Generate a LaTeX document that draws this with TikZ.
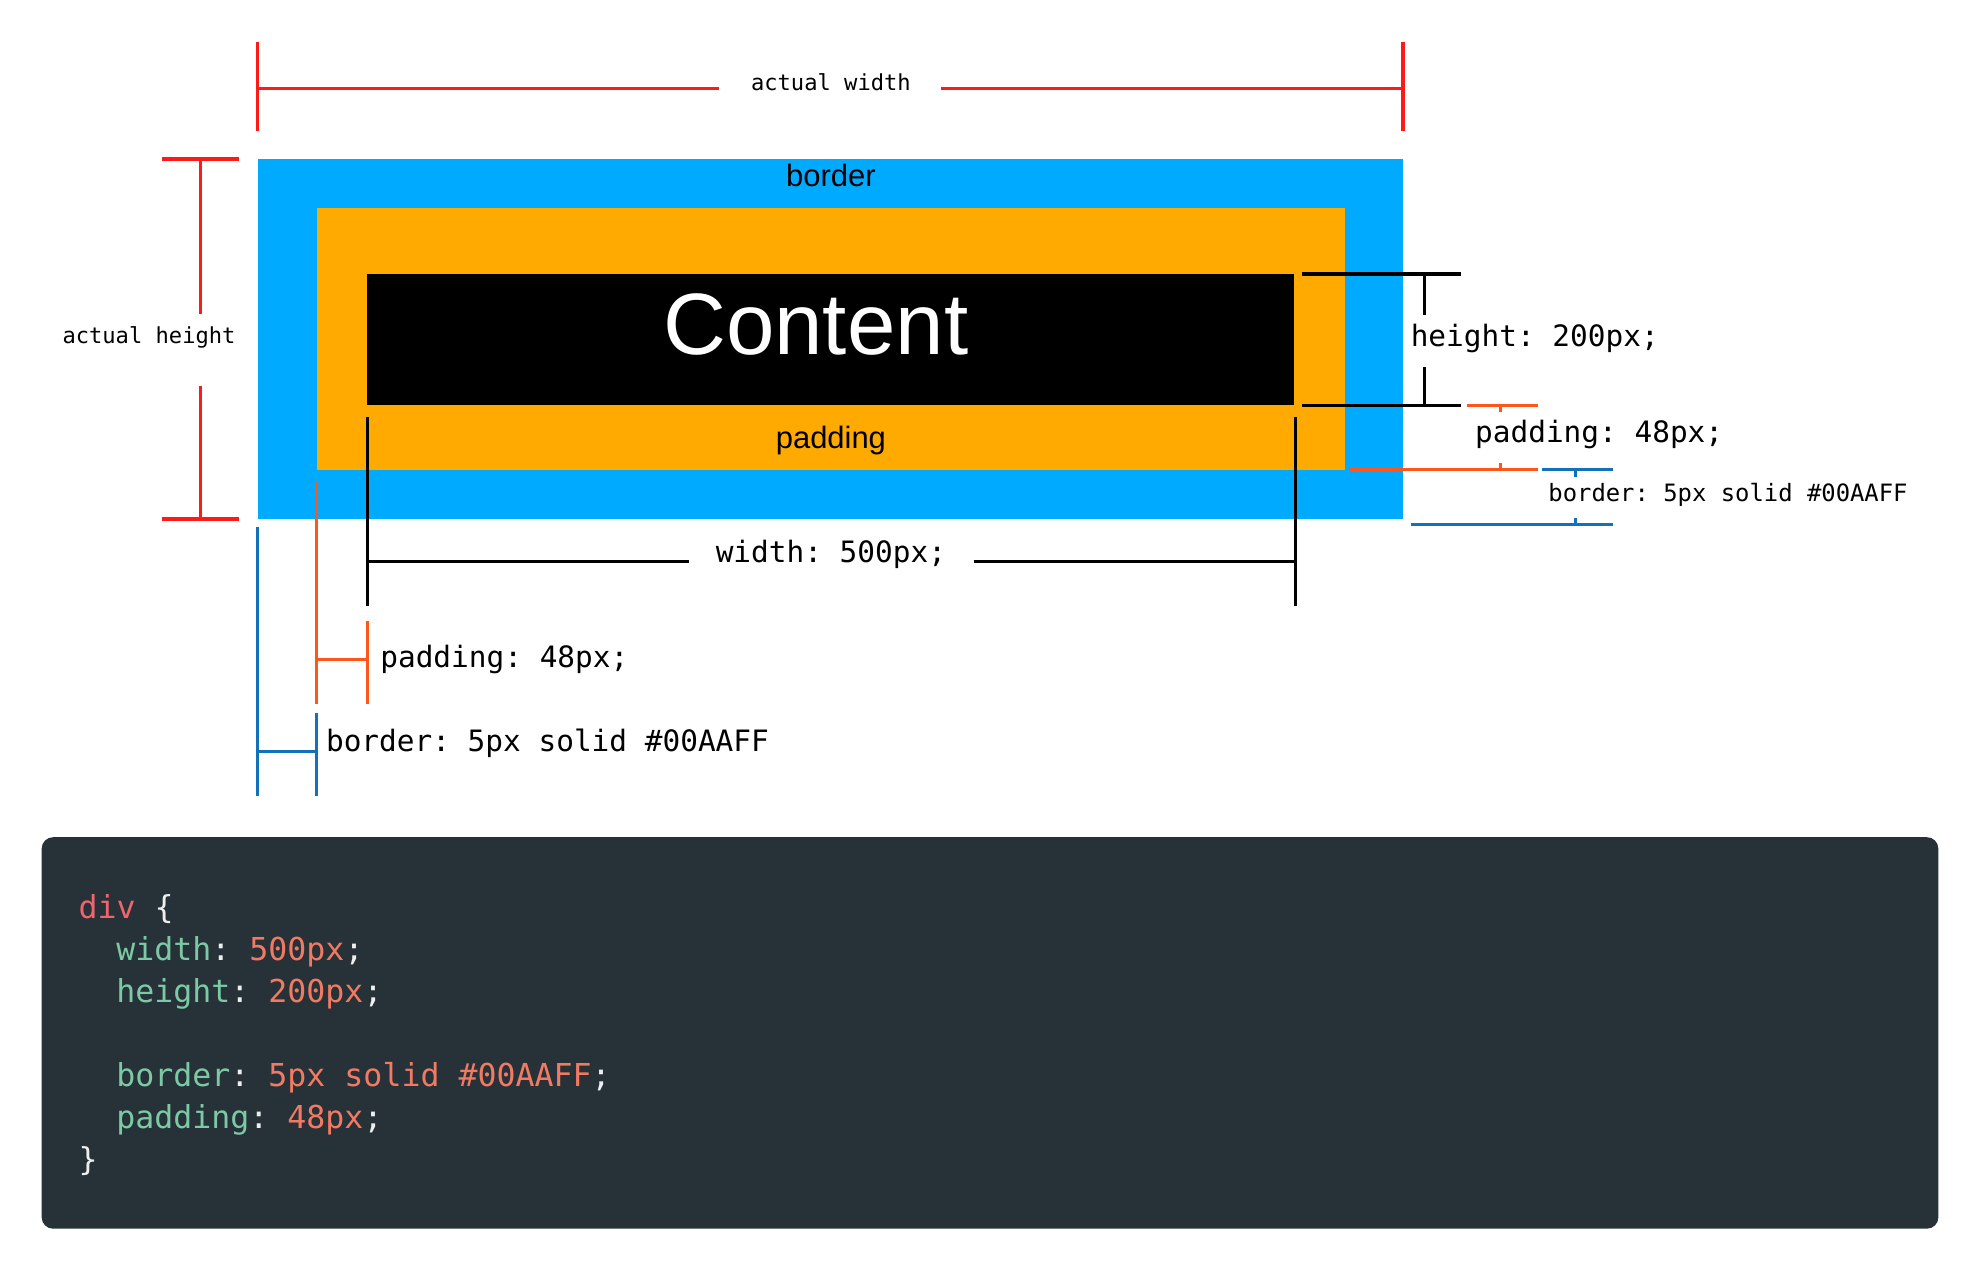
\documentclass[tikz,border=0pt]{standalone}
\usepackage{fontspec}
\newfontfamily\monof{DejaVu Sans Mono}
\newfontfamily\sansf{Liberation Sans}
\definecolor{cRed}{HTML}{FF1A1A}
\definecolor{cOrg}{HTML}{FF561C}
\definecolor{cLblue}{HTML}{1271B8}
\definecolor{cBorder}{HTML}{00AAFF}
\definecolor{cPad}{HTML}{FFAA00}
\definecolor{cCode}{HTML}{263238}
\definecolor{cTag}{HTML}{F0646E}
\definecolor{cProp}{HTML}{7DC9A6}
\definecolor{cVal}{HTML}{F27A63}
\definecolor{cPunct}{HTML}{EEEEEE}
\begin{document}
\frenchspacing
\begin{tikzpicture}[x=1pt,y=-1pt,
  dimred/.style={draw=cRed, line width=2.7pt},
  dimblk/.style={draw=black, line width=2.7pt},
  dimorg/.style={draw=cOrg, line width=2.4pt},
  dimblu/.style={draw=cLblue, line width=2.4pt},
  lbl/.style={inner sep=0pt, font=\monof\fontsize{23.3}{27}\selectfont},
  lblmid/.style={inner sep=0pt, font=\monof\fontsize{18.9}{22}\selectfont},
  lblsm/.style={inner sep=0pt, font=\monof\fontsize{17.5}{21}\selectfont},
  boxlbl/.style={inner sep=0pt, font=\sansf\fontsize{24.5}{28}\selectfont},
  code/.style={inner sep=0pt, anchor=base west, font=\monof\fontsize{25}{30}\selectfont},
  area/.style={inner sep=0pt, outer sep=0pt, anchor=north west, draw=none}]
\useasboundingbox (0,0) rectangle (1568,1007);
\fill[white] (0,0) rectangle (1568,1007);

% boxes
\node[area, fill=cBorder, minimum width=907, minimum height=285] (bbox) at (204,126) {};
\node[area, fill=cPad, minimum width=814, minimum height=207] (pbox) at (251,165) {};
\node[area, fill=black, minimum width=734, minimum height=104] (cbox) at (291,217) {};
\node[boxlbl, anchor=base] (tborder) at (658,148) {border};
\node[boxlbl, anchor=base] (tpadding) at (658,355) {padding};
\node[inner sep=0pt, anchor=base, text=white, font=\sansf\fontsize{69}{80}\selectfont] (tcontent) at (646,281) {Content};

% actual width
\node[lblsm, anchor=base] (taw) at (658,72) {actual width};
\coordinate (awL) at (204,70); \coordinate (awR) at (1111,70);
\draw[dimred] (204,33) -- (204,104);
\draw[dimred] (1111,33) -- (1111,104);
\draw[dimred] (awL) -- (569,70);
\draw[dimred] (745,70) -- (awR);

% actual height
\node[lblsm, anchor=base] (tah) at (118,272) {actual height};
\draw[dimred] (128,126) -- (189,126);
\draw[dimred] (128,411) -- (189,411);
\draw[dimred] (159,126) -- (159,248.5);
\draw[dimred] (159,306) -- (159,411);

% height 200px
\node[lbl, anchor=base west] (th) at (1117,274) {height: 200px;};
\draw[dimblk] (1031,217) -- (1157,217);
\draw[dimblk] (1031,321) -- (1157,321);
\draw[dimblk] (1128,217) -- (1128,249.5);
\draw[dimblk] (1128,290.5) -- (1128,321);

% padding right
\node[lbl, anchor=base west] (tpr) at (1168,350.5) {padding: 48px;};
\draw[dimorg] (1162,321) -- (1218,321);
\draw[dimorg] (1188,321) -- (1188,326.5);
\draw[dimorg] (1069,372) -- (1218,372);
\draw[dimorg] (1188,372) -- (1188,366.5);

% border right
\node[lblmid, anchor=base west] (tbr) at (1226,397) {border: 5px solid \#00AAFF};
\draw[dimblu] (1221.5,372) -- (1277.5,372);
\draw[dimblu] (1248,372) -- (1248,377.5);
\draw[dimblu] (1117,415.5) -- (1277.5,415.5);
\draw[dimblu] (1248,415.5) -- (1248,410);

% width 500px
\node[lbl, anchor=base] (tw) at (658,445.5) {width: 500px;};
\draw[dimblk] (291,330) -- (291,480);
\draw[dimblk] (1026,330) -- (1026,480);
\draw[dimblk] (291,444.5) -- (545.5,444.5);
\draw[dimblk] (771,444.5) -- (1026,444.5);

% padding bottom-left
\node[lbl, anchor=base west] (tpb) at (301,528.5) {padding: 48px;};
\draw[dimorg] (251,381) -- (251,557.5);
\draw[dimorg] (291,492) -- (291,557.5);
\draw[dimorg] (251,522.5) -- (291,522.5);

% border bottom-left
\node[lbl, anchor=base west] (tbb) at (258,595) {border: 5px solid \#00AAFF};
\draw[dimblu] (204,417) -- (204,630);
\draw[dimblu] (251,564.5) -- (251,630);
\draw[dimblu] (204,595.5) -- (251,595.5);

% code box
\node[area, fill=cCode, rounded corners=9pt, minimum width=1502, minimum height=310] (codebox) at (33,663) {};
\node[code] (l1) at (62,727.5) {\textcolor{cTag}{div}\ \textcolor{cPunct}{\{}};
\node[code] (l2) at (92,760.8) {\textcolor{cProp}{width}\textcolor{cPunct}{:}\ \textcolor{cVal}{500px}\textcolor{cPunct}{;}};
\node[code] (l3) at (92,794.1) {\textcolor{cProp}{height}\textcolor{cPunct}{:}\ \textcolor{cVal}{200px}\textcolor{cPunct}{;}};
\node[code] (l4) at (92,860.7) {\textcolor{cProp}{border}\textcolor{cPunct}{:}\ \textcolor{cVal}{5px solid \#00AAFF}\textcolor{cPunct}{;}};
\node[code] (l5) at (92,894) {\textcolor{cProp}{padding}\textcolor{cPunct}{:}\ \textcolor{cVal}{48px}\textcolor{cPunct}{;}};
\node[code] (l6) at (62,927.3) {\textcolor{cPunct}{\}}};
\end{tikzpicture}
\end{document}
